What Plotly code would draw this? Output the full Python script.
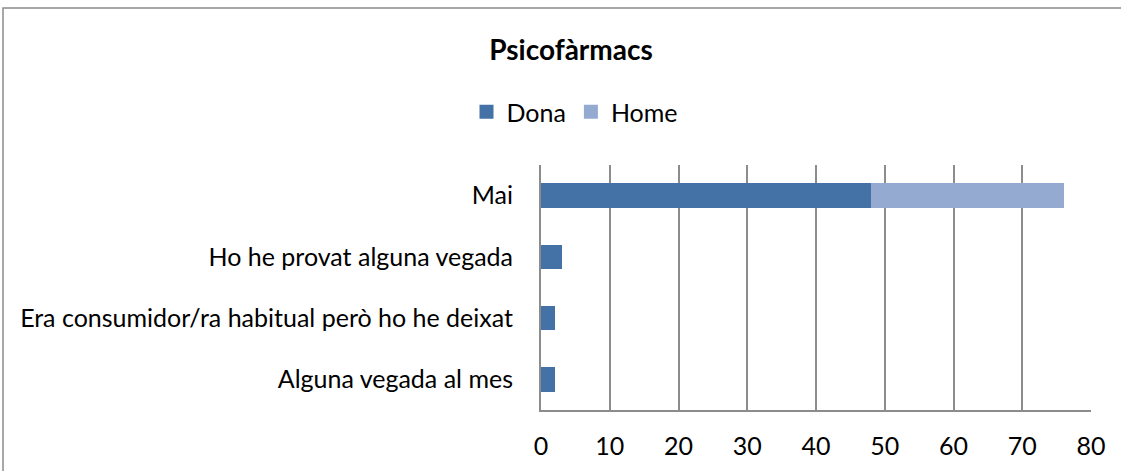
import plotly.graph_objects as go

categories = ["Mai", "Ho he provat alguna vegada", "Era consumidor/ra habitual però ho he deixat", "Alguna vegada al mes"]
dona = [48, 3, 2, 2]
home = [28, 0, 0, 0]
x_ticks = [0, 10, 20, 30, 40, 50, 60, 70, 80]

FONT = "Lato"
DONA_C = "#4472A7"
HOME_C = "#95AAD1"
L, R, T, B = 541, 30, 165, 61
W, H = 1121, 471
pw = W - L - R
ph = H - T - B

fig = go.Figure()
fig.add_trace(go.Bar(y=categories, x=dona, name="Dona", orientation="h", showlegend=False,
                     marker=dict(color=DONA_C, line=dict(width=0))))
fig.add_trace(go.Bar(y=categories, x=home, name="Home", orientation="h", showlegend=False,
                     marker=dict(color=HOME_C, line=dict(width=0))))
# legend-only entries with square markers
fig.add_trace(go.Scatter(x=[None], y=[None], mode="markers", name="Dona",
                         marker=dict(symbol="square", size=14, color=DONA_C)))
fig.add_trace(go.Scatter(x=[None], y=[None], mode="markers", name="Home",
                         marker=dict(symbol="square", size=14, color=HOME_C)))

def px2x(p):
    return (p - L) / pw

def py2y(p):
    return (H - B - p) / ph

fig.update_layout(
    width=W, height=H,
    margin=dict(l=L, r=R, t=T, b=B, autoexpand=False),
    barmode="stack",
    bargap=0.6,
    plot_bgcolor="white", paper_bgcolor="white",
    font=dict(family=FONT, size=25, color="#000000"),
    title=dict(text="<b>Psicofàrmacs</b>", x=571 / W, xanchor="center", xref="container",
               y=1 - 50 / H, yanchor="middle", yref="container", font=dict(size=28, family=FONT)),
    legend=dict(orientation="h", x=575 / W, xref="container", xanchor="center",
                y=1 - 112 / H, yref="container", yanchor="middle",
                font=dict(size=25, family=FONT), traceorder="normal",
                itemwidth=30, tracegroupgap=0),
    xaxis=dict(range=[0, 80], tickvals=x_ticks, showgrid=True, gridcolor="#8C8C8C", gridwidth=2,
               showline=True, linecolor="#8C8C8C", linewidth=2, zeroline=False, automargin=False,
               ticks="", ticklabelstandoff=13, tickfont=dict(size=25)),
    yaxis=dict(autorange="reversed", showline=True, linecolor="#8C8C8C", linewidth=2, automargin=False,
               ticks="", ticklabelstandoff=21, tickfont=dict(size=25)),
    shapes=[dict(type="rect", xref="paper", yref="paper",
                 x0=px2x(3), x1=px2x(1130), y0=py2y(480), y1=py2y(8),
                 line=dict(color="#8C8C8C", width=1.5), layer="below")],
)
fig.write_html("out.html", config={"displayModeBar": False},
               post_script="document.body.style.margin='0';document.body.style.overflow='hidden';")
